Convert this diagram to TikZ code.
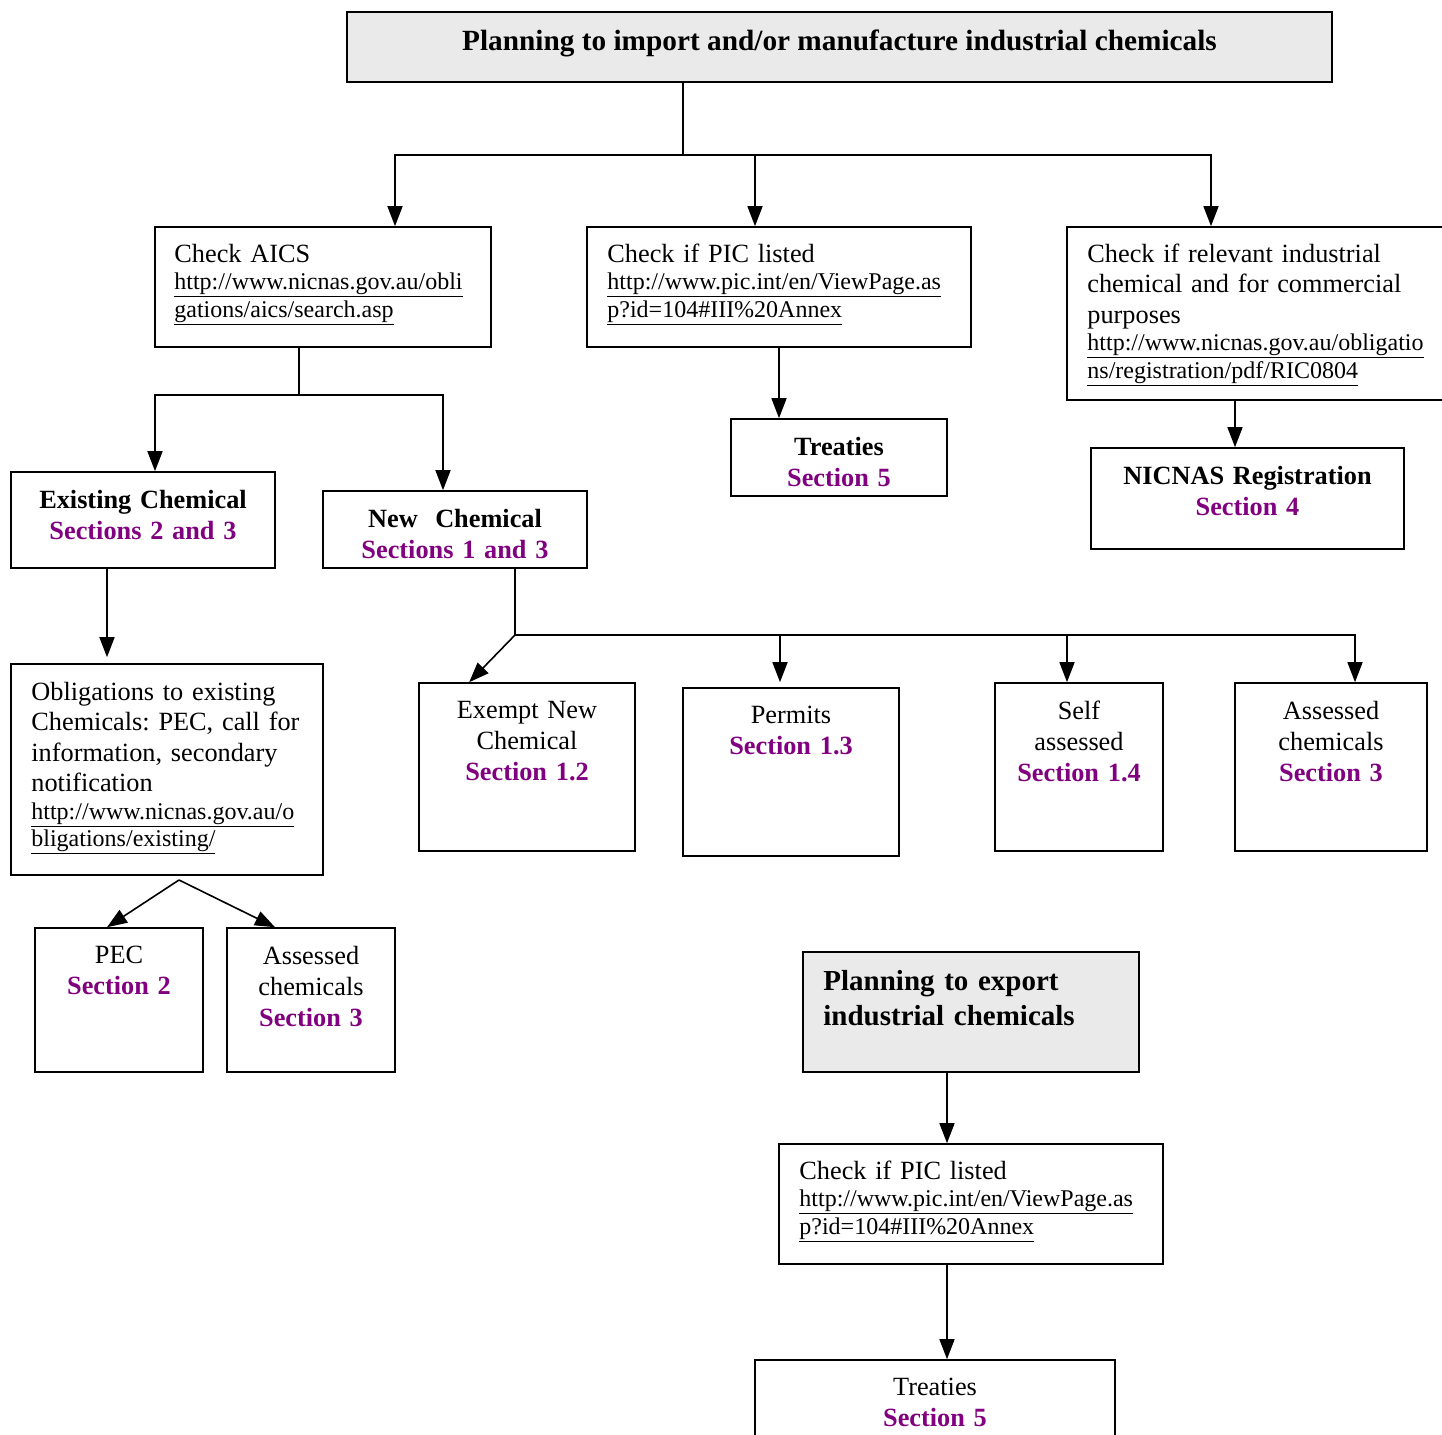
\documentclass[tikz,border=0pt]{standalone}
\usepackage{fontspec}
\setmainfont{Liberation Serif}
\usetikzlibrary{arrows.meta,positioning}
\definecolor{secpurple}{RGB}{128,0,128}
\definecolor{titlegrey}{RGB}{234,234,234}
\newcommand{\sect}[1]{{\bfseries\color{secpurple}#1}}
\newcommand{\lnk}[1]{\underline{#1}}
\newcommand{\rfont}{\fontsize{26.3}{30.5}\selectfont}
\newcommand{\ufont}{\fontsize{24}{27.5}\selectfont}
\frenchspacing

\begin{document}
\begin{tikzpicture}[x=1pt, y=-1pt]
	\tikzstyle{box}=[rectangle, draw=black, line width=1.6pt, inner sep=0pt]
	\tikzstyle{greybox}=[box, fill=titlegrey]
	\tikzstyle{connect}=[-{Triangle[length=20pt,width=15pt]}, line width=1.6pt]
	\tikzstyle{wire}=[line width=1.6pt]
	\tikzstyle{lbll}=[inner sep=0pt, anchor=north west, align=left, text width=400pt, font=\rfont]
	\tikzstyle{lblc}=[inner sep=0pt, anchor=north, align=center, text width=300pt, font=\fontsize{26.3}{31}\selectfont]
	\tikzstyle{lblcb}=[lblc, font=\fontsize{26.3}{31}\selectfont\bfseries]
	
	\useasboundingbox (0,0) rectangle (1442,1434);
	
	% import side
	\node[greybox, minimum width=985pt, minimum height=70pt, text height=20pt, text depth=12.5pt, font=\bfseries\fontsize{29.3}{35}\selectfont] (title) at (839.5,47) {Planning to import and/or manufacture industrial chemicals};
	
	\node[box, minimum width=336pt, minimum height=120pt] (aics) at (323,287) {};
	\node[box, minimum width=384pt, minimum height=120pt] (pic) at (779,287) {};
	\node[box, minimum width=380pt, minimum height=173pt] (rel) at (1257,313.5) {};
	
	\node[lbll] (aicst) at ([xshift=20pt, yshift=-17.5pt]aics.north west) {Check AICS\par{\ufont\lnk{http://www.nicnas.gov.au/obli}\\\lnk{gations/aics/search.asp}\par}};
	\node[lbll] (pict) at ([xshift=21pt, yshift=-17.5pt]pic.north west) {Check if PIC listed\par{\ufont\lnk{http://www.pic.int/en/ViewPage.as}\\\lnk{p?id=104\#III\%20Annex}\par}};
	\node[lbll] (relt) at ([xshift=21pt, yshift=-17.5pt]rel.north west) {Check if relevant industrial\\chemical and for commercial\\purposes\par{\ufont\lnk{http://www.nicnas.gov.au/obligatio}\\\lnk{ns/registration/pdf/RIC0804}\par}};
	
	\node[box, minimum width=216pt, minimum height=77pt] (treat) at (839,457.5) {};
	\node[box, minimum width=313pt, minimum height=101pt] (nicreg) at (1247.5,498.5) {};
	\node[box, minimum width=264pt, minimum height=96pt] (exist) at (143,520) {};
	\node[box, minimum width=264pt, minimum height=77pt] (newc) at (455,529.5) {};
	
	\node[lblcb] (treatt) at ([yshift=-18.5pt]treat.north) {Treaties\\\sect{Section 5}};
	\node[lblcb] (nicregt) at ([yshift=-18.5pt]nicreg.north) {NICNAS Registration\\\sect{Section 4}};
	\node[lblcb] (existt) at ([yshift=-18.5pt]exist.north) {Existing Chemical\\\sect{Sections 2 and 3}};
	\node[lblcb] (newct) at ([yshift=-18.5pt]newc.north) {New\ \ Chemical\\\sect{Sections 1 and 3}};
	
	\node[box, minimum width=312pt, minimum height=211pt] (oblig) at (167,769.5) {};
	\node[box, minimum width=216pt, minimum height=168pt] (exempt) at (527,767) {};
	\node[box, minimum width=216pt, minimum height=168pt] (permit) at (791,772) {};
	\node[box, minimum width=168pt, minimum height=168pt] (self) at (1079,767) {};
	\node[box, minimum width=192pt, minimum height=168pt] (assess) at (1331,767) {};
	
	\node[lbll] (obligt) at ([xshift=21pt, yshift=-18.5pt]oblig.north west) {Obligations to existing\\Chemicals: PEC, call for\\information, secondary\\notification\par{\ufont\lnk{http://www.nicnas.gov.au/o}\\\lnk{bligations/existing/}\par}};
	\node[lblc] (exemptt) at ([yshift=-18.5pt]exempt.north) {Exempt New\\Chemical\\\sect{Section 1.2}};
	\node[lblc] (permitt) at ([yshift=-18.5pt]permit.north) {Permits\\\sect{Section 1.3}};
	\node[lblc] (selft) at ([yshift=-18.5pt]self.north) {Self\\assessed\\\sect{Section 1.4}};
	\node[lblc] (assesst) at ([yshift=-18.5pt]assess.north) {Assessed\\chemicals\\\sect{Section 3}};
	
	\node[box, minimum width=168pt, minimum height=144pt] (pec) at (119,1000) {};
	\node[box, minimum width=168pt, minimum height=144pt] (assessb) at (311,1000) {};
	\node[lblc] (pect) at ([yshift=-18.5pt]pec.north) {PEC\\\sect{Section 2}};
	\node[lblc] (assessbt) at ([yshift=-18.5pt]assessb.north) {Assessed\\chemicals\\\sect{Section 3}};
	
	% export side
	\node[greybox, minimum width=336pt, minimum height=120pt] (export) at (971,1012) {};
	\node[box, minimum width=384pt, minimum height=120pt] (picb) at (971,1204) {};
	\node[box, minimum width=360pt, minimum height=120pt] (treatb) at (935,1420) {};
	
	\node[lbll, font=\bfseries\fontsize{29}{35}\selectfont] (exportt) at ([xshift=21pt, yshift=-18.6pt]export.north west) {Planning to export\\industrial chemicals};
	\node[lbll] (picbt) at ([xshift=21pt, yshift=-17.5pt]picb.north west) {Check if PIC listed\par{\ufont\lnk{http://www.pic.int/en/ViewPage.as}\\\lnk{p?id=104\#III\%20Annex}\par}};
	\node[lblc] (treatbt) at ([yshift=-18.5pt]treatb.north) {Treaties\\\sect{Section 5}};
	
	% junctions
	\coordinate (tj) at (683,155);
	\coordinate (tl) at (395,155);
	\coordinate (tm) at (755,155);
	\coordinate (tr) at (1211,155);
	\coordinate (aj) at (299,395);
	\coordinate (ajl) at (155,395);
	\coordinate (ajr) at (443,395);
	\coordinate (rn) at (1235,0);
	\coordinate (eo) at (107,0);
	\coordinate (nj) at (515,635);
	\coordinate (nj2) at (780,635);
	\coordinate (nj3) at (1067,635);
	\coordinate (nj4) at (1355,635);
	\coordinate (oj) at (179,880);
	\coordinate (xa) at (947,0);
	
	\draw[wire] (title.south -| tj) -- (tj);
	\draw[connect] (tm) -- (tl) -- (tl |- aics.north);
	\draw[connect] (tm) -- (tr) -- (tr |- rel.north);
	\draw[connect] (tm) -- (tm |- pic.north);
	
	\draw[wire] (aj |- aics.south) -- (aj);
	\draw[connect] (aj) -- (ajl) -- (ajl |- exist.north);
	\draw[connect] (aj) -- (ajr) -- (ajr |- newc.north);
	
	\draw[connect] (pic.south) -- (pic.south |- treat.north);
	\draw[connect] (rn |- rel.south) -- (rn |- nicreg.north);
	\draw[connect, shorten >=6pt] (eo |- exist.south) -- (eo |- oblig.north);
	
	\draw[connect] (nj |- newc.south) -- (nj) -- (nj4) -- (nj4 |- assess.north);
	\draw[connect] (nj) -- ([xshift=51pt]exempt.north west);
	\draw[connect, shorten >=5pt] (nj2) -- (nj2 |- permit.north);
	\draw[connect] (nj3) -- (nj3 |- self.north);
	
	\draw[connect] (oj) -- ([xshift=-12pt]pec.north);
	\draw[connect] (oj) -- ([xshift=-36pt]assessb.north);
	
	\draw[connect] (xa |- export.south) -- (xa |- picb.north);
	\draw[connect] (xa |- picb.south) -- (xa |- treatb.north);
	
\end{tikzpicture}
\end{document}
